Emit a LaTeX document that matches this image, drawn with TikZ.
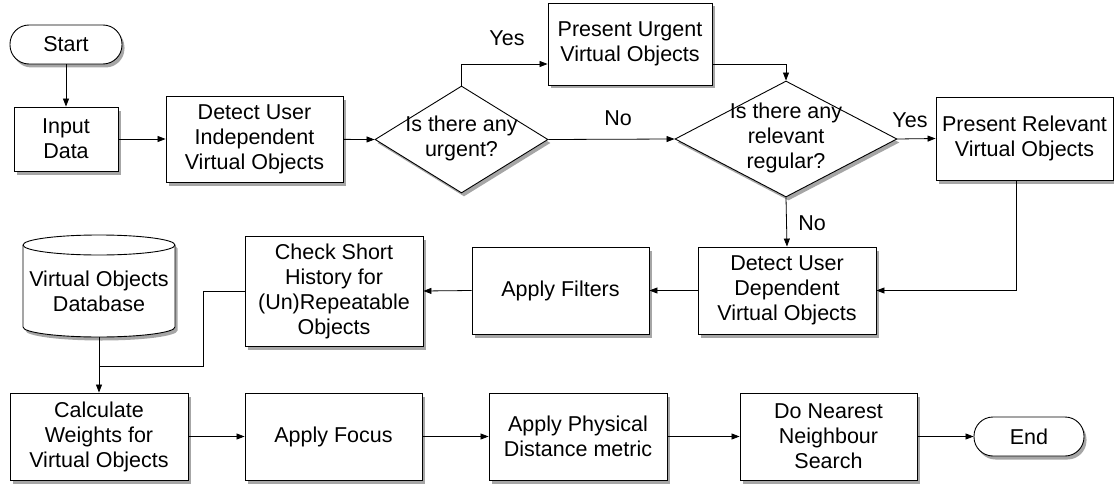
\documentclass[tikz,border=0pt]{standalone}
\usepackage{fontspec}
\setmainfont{Liberation Sans}
\usetikzlibrary{shapes.geometric,shadows,arrows.meta}
\begin{document}
\begin{tikzpicture}[x=1pt,y=-1pt,
  font=\fontsize{21.5}{25}\selectfont,
  shad/.style={drop shadow={shadow xshift=2.5pt,shadow yshift=-3.5pt,fill=black,opacity=0.35}},
  proc/.style={draw,line width=0.9pt,fill=white,shad,align=center,inner sep=0pt},
  term/.style={draw,line width=0.9pt,fill=white,shad,rounded corners=19pt,inner sep=0pt},
  dec/.style={draw,diamond,line width=0.9pt,fill=white,shad,inner sep=0pt},
  conn/.style={line width=0.8pt,-{Triangle[length=8pt,width=6pt]}},
  plain/.style={line width=0.8pt},
  lab/.style={inner sep=0pt,align=center}]
\fill[white] (0,0) rectangle (1114,487);
\useasboundingbox (0,0) rectangle (1114,487);

% nodes
\node[term,minimum width=112pt,minimum height=39pt] (start) at (66,44.5) {Start};
\node[proc,minimum width=104pt,minimum height=64pt] (input) at (66,139) {Input\\Data};
\node[proc,minimum width=177pt,minimum height=86pt] (dind) at (254.5,139) {Detect User\\Independent\\Virtual Objects};
\node[dec,minimum width=173pt,minimum height=107pt] (d1) at (461.5,139.5) {};
\node[lab] (d1t) at (461.5,138.5) {Is there any\\urgent?};
\node[proc,minimum width=164pt,minimum height=82pt] (pu) at (630,44) {Present Urgent\\Virtual Objects};
\node[dec,minimum width=222pt,minimum height=116pt] (d2) at (786,139) {};
\node[lab] (d2t) at (786,137.5) {Is there any\\relevant\\regular?};
\node[proc,minimum width=177pt,minimum height=83pt] (prel) at (1024.5,138.5) {Present Relevant\\Virtual Objects};
\node[proc,minimum width=178pt,minimum height=87pt] (dep) at (787,290.5) {Detect User\\Dependent\\Virtual Objects};
\node[proc,minimum width=177pt,minimum height=87pt] (filt) at (560.5,290.5) {Apply Filters};
\node[proc,minimum width=178pt,minimum height=110pt] (csh) at (334,291) {Check Short\\History for\\(Un)Repeatable\\Objects};

% database cylinder
\path[draw,line width=0.9pt,fill=white,shad] (23,245) -- (23,327)
  arc[start angle=180,end angle=360,x radius=76pt,y radius=10pt]
  -- (175,245)
  arc[start angle=0,end angle=180,x radius=76pt,y radius=10pt] -- cycle;
\draw[line width=0.9pt] (23,245) arc[start angle=180,end angle=360,x radius=76pt,y radius=10pt];
\node[lab] (db) at (99,291) {Virtual Objects\\Database};
\coordinate (dbb) at (99,337);

\node[proc,minimum width=178pt,minimum height=87pt] (calc) at (99,436.5) {Calculate\\Weights for\\Virtual Objects};
\node[proc,minimum width=177pt,minimum height=87pt] (focus) at (333.5,436.5) {Apply Focus};
\node[proc,minimum width=178pt,minimum height=87pt] (phys) at (578,436.5) {Apply Physical\\Distance metric};
\node[proc,minimum width=177pt,minimum height=87pt] (near) at (828.5,436.5) {Do Nearest\\Neighbour\\Search};
\node[term,minimum width=110pt,minimum height=39pt] (end) at (1029,436.5) {End};

\coordinate (k1) at (203,366);
\coordinate (j1) at (99,366);

% connectors
\draw[conn] (start) -- (input);
\draw[conn] (input) -- (dind);
\draw[conn] (dind) -- (d1.west);
\draw[conn] (d1.north) |- ([yshift=-20pt]pu.west);
\draw[conn] ([yshift=-20pt]pu.east) -| (d2.north);
\draw[conn] (d1.east) -- (d2.west);
\draw[conn] (d2.east) -- (prel.west);
\draw[conn] (d2.south) -- (dep.north);
\draw[conn] ([xshift=-8.5pt]prel.south) |- (dep.east);
\draw[conn] (dep.west) -- (filt.east);
\draw[conn] (filt.west) -- (csh.east);
\draw[plain] (csh.west) -| (k1) -- (j1);
\draw[conn] (dbb) -- (calc.north);
\draw[conn] (calc) -- (focus);
\draw[conn] (focus) -- (phys);
\draw[conn] (phys) -- (near);
\draw[conn] (near) -- (end);

% labels
\node[lab] (yes1) at (507,38) {Yes};
\node[lab] (no1) at (618,118) {No};
\node[lab] (yes2) at (910,120) {Yes};
\node[lab] (no2) at (812,223) {No};
\end{tikzpicture}
\end{document}
